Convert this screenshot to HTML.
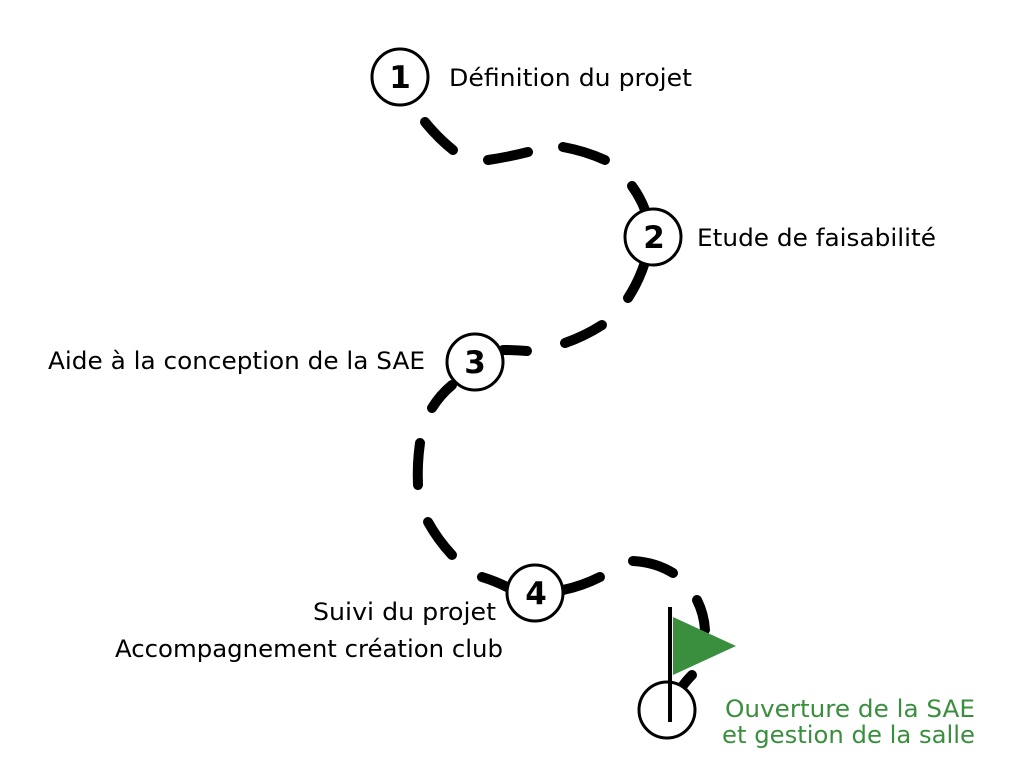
<!DOCTYPE html>
<html><head><meta charset="utf-8"><style>html,body{margin:0;padding:0;background:#fff;}svg{display:block}</style></head>
<body>
<svg width="1024" height="768" viewBox="0 0 1024 768" xmlns="http://www.w3.org/2000/svg">
<g fill="none" stroke="#000" stroke-width="10" stroke-linecap="round">
<path d="M425 122 Q438 138 453 150"/>
<path d="M488 160 Q508 157 528 152"/>
<path d="M563 147 Q585 151 605 160"/>
<path d="M632 186 Q640 197 645 210"/>
<path d="M645 262 Q639 281 628 298"/>
<path d="M602 325 Q585 336 565 343"/>
<path d="M527 351 Q515 350 503 350"/>
<path d="M452 385 Q440 395 432 408"/>
<path d="M420 443 Q417 464 418 485"/>
<path d="M428 522 Q438 540 452 555"/>
<path d="M482 577 Q495 581 507 587"/>
<path d="M563 590 Q582 586 600 577"/>
<path d="M633 561 Q655 562 673 573"/>
<path d="M697 600 Q704 614 705 630"/>
<path d="M692 675 Q686 681 682 687"/>
</g>
<g fill="#fff" stroke="#000" stroke-width="3">
<circle cx="400" cy="77" r="28"/>
<circle cx="653" cy="237" r="28"/>
<circle cx="475" cy="362" r="28"/>
<circle cx="535" cy="593" r="28"/>
<circle cx="667" cy="710" r="28"/>
</g>
<line x1="670" y1="607" x2="670" y2="722" stroke="#000" stroke-width="4"/>
<polygon points="673,617 736,646 673,675" fill="#3a8f3e"/>
<g font-family="DejaVu Sans, sans-serif" font-weight="bold" font-size="31" text-anchor="middle">
<text x="400" y="88">1</text>
<text x="654" y="248">2</text>
<text x="475" y="373">3</text>
<text x="536" y="604">4</text>
</g>
<g font-family="DejaVu Sans, sans-serif" font-size="24" fill="#000">
<text x="449" y="86" textLength="243" lengthAdjust="spacingAndGlyphs">Définition du projet</text>
<text x="697" y="246" textLength="239" lengthAdjust="spacingAndGlyphs">Etude de faisabilité</text>
<text x="48" y="369" textLength="377" lengthAdjust="spacingAndGlyphs">Aide à la conception de la SAE</text>
<text x="313" y="620" textLength="183" lengthAdjust="spacingAndGlyphs">Suivi du projet</text>
<text x="115" y="657" textLength="388" lengthAdjust="spacingAndGlyphs">Accompagnement création club</text>
<text x="725" y="717" fill="#3a8f3e" textLength="250" lengthAdjust="spacingAndGlyphs">Ouverture de la SAE</text>
<text x="722" y="743" fill="#3a8f3e" textLength="253" lengthAdjust="spacingAndGlyphs">et gestion de la salle</text>
</g>
</svg>
</body></html>
